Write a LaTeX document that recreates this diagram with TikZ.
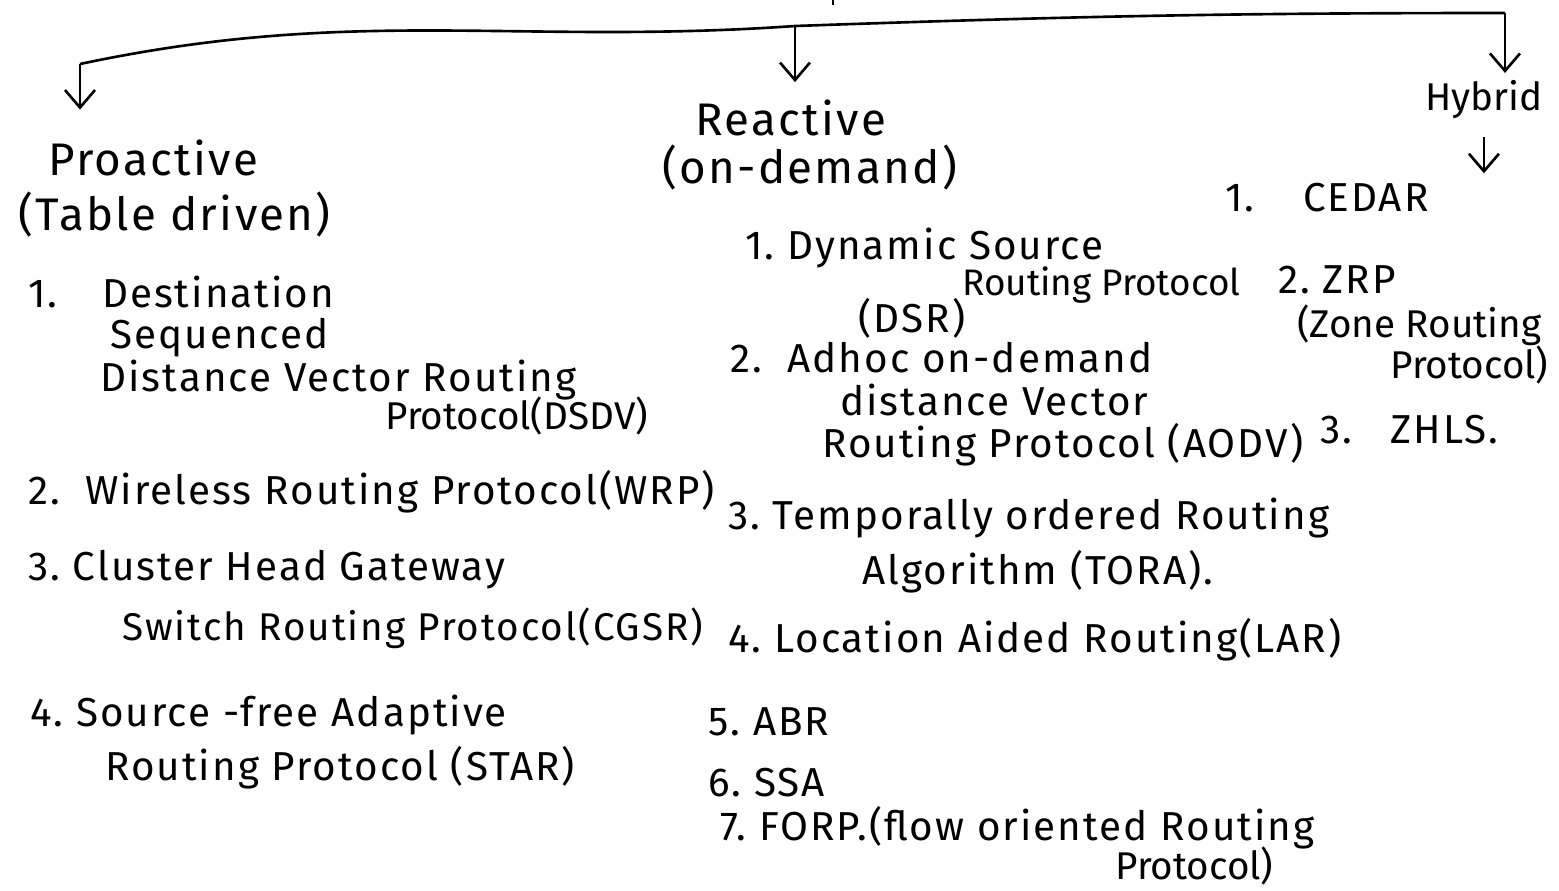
\documentclass[tikz,border=0pt]{standalone}
\usepackage{fontspec}
\setmainfont{Fira Sans}
\newfontfamily\handwide{Fira Sans}[LetterSpace=5]
\usetikzlibrary{positioning,arrows.meta}
\tikzset{
  txtn/.style   = {anchor=west, inner sep=0pt, font=\fontsize{22}{26}\selectfont},
  txt/.style    = {txtn, font=\handwide\fontsize{23}{27}\selectfont},
  head/.style   = {txtn, font=\handwide\fontsize{26}{30}\selectfont},
  branch/.style = {line width=1.5pt},
  ar/.style     = {line width=1.5pt, -{Straight Barb[length=3.5mm,width=6mm,line width=1.5pt]}},
}

\begin{document}
\begin{tikzpicture}[x=0.02cm, y=-0.02cm]
\useasboundingbox (0,0) rectangle (1559,890);

% --- headings ---
\node[head] (pro)  at (48,158)  {Proactive};
\node[head] (prot) at (18,215)  {(Table driven)};
\node[head] (rea)  at (695,118) {Reactive};
\node[head] (reat) at (662,168) {(on-demand)};
\node[txtn] (hyb)  at (1425,100) {Hybrid};

% --- proactive list ---
\node[txt] (p1a) at (28,292)  {1.\hspace{1.1em}Destination};
\node[txt] (p1b) at (110,338) {Sequenced};
\node[txt] (p1c) at (100,380) {Distance Vector Routing};
\node[txtn] (p1d) at (385,416) {Protocol(DSDV)};
\node[txt] (p2)  at (28,492)  {2.\ \ Wireless Routing Protocol(WRP)};
\node[txt] (p3a) at (28,570)  {3.\ Cluster Head Gateway};
\node[txt, font=\handwide\fontsize{22}{26}\selectfont] (p3b) at (122,628) {Switch Routing Protocol(CGSR)};
\node[txt] (p4a) at (30,715)  {4.\ Source -free Adaptive};
\node[txt] (p4b) at (105,768) {Routing Protocol (STAR)};

% --- reactive list ---
\node[txt] (r1a) at (745,248) {1.\ Dynamic Source};
\node[txtn, font=\fontsize{21}{25}\selectfont] (r1b) at (962,285) {Routing Protocol};
\node[txt] (r1c) at (858,318) {(DSR)};
\node[txt] (r2a) at (730,358) {2.\ \ Adhoc on-demand};
\node[txt] (r2b) at (840,400) {distance Vector};
\node[txt] (r2c) at (822,445) {Routing Protocol (AODV)};
\node[txt] (r3a) at (728,518) {3.\ Temporally ordered Routing};
\node[txt] (r3b) at (862,572) {Algorithm (TORA).};
\node[txt] (r4)  at (728,640) {4.\ Location Aided Routing(LAR)};
\node[txt] (r5)  at (708,722) {5.\ ABR};
\node[txt] (r6)  at (708,783) {6.\ SSA};
\node[txt] (r7a) at (720,828) {7.\ FORP.(flow oriented Routing};
\node[txtn] (r7b) at (1115,866) {Protocol)};

% --- hybrid list ---
\node[txt] (h1)  at (1225,198) {1.\hspace{1.2em}CEDAR};
\node[txt] (h2a) at (1278,280) {2.\ ZRP};
\node[txtn] (h2b) at (1297,325) {(Zone Routing};
\node[txtn] (h2c) at (1390,365) {Protocol)};
\node[txt] (h3)  at (1320,430) {3.\ \ \ ZHLS.};

% --- branching line ---
\coordinate (top) at (833,0);
\coordinate (bl) at (80,64);
\coordinate (bm) at (795,26);
\coordinate (br) at (1505,13);
\draw[branch] (top) -- ++(0,5);
\draw[branch] (bl) to[out=12,in=184] (bm) to[out=2,in=180] (br);

% arrows down to the headings
\draw[ar] (bl) -- ([yshift=0.6cm]bl |- pro.north);
\draw[ar] (bm) -- ([yshift=0.35cm]bm |- rea.north);
\draw[ar] (br) -- ([yshift=0.15cm]br |- hyb.north);
\draw[ar] ([yshift=-0.35cm]hyb.south) -- ([yshift=0.2cm]hyb.south |- h1.north);
\end{tikzpicture}
\end{document}
